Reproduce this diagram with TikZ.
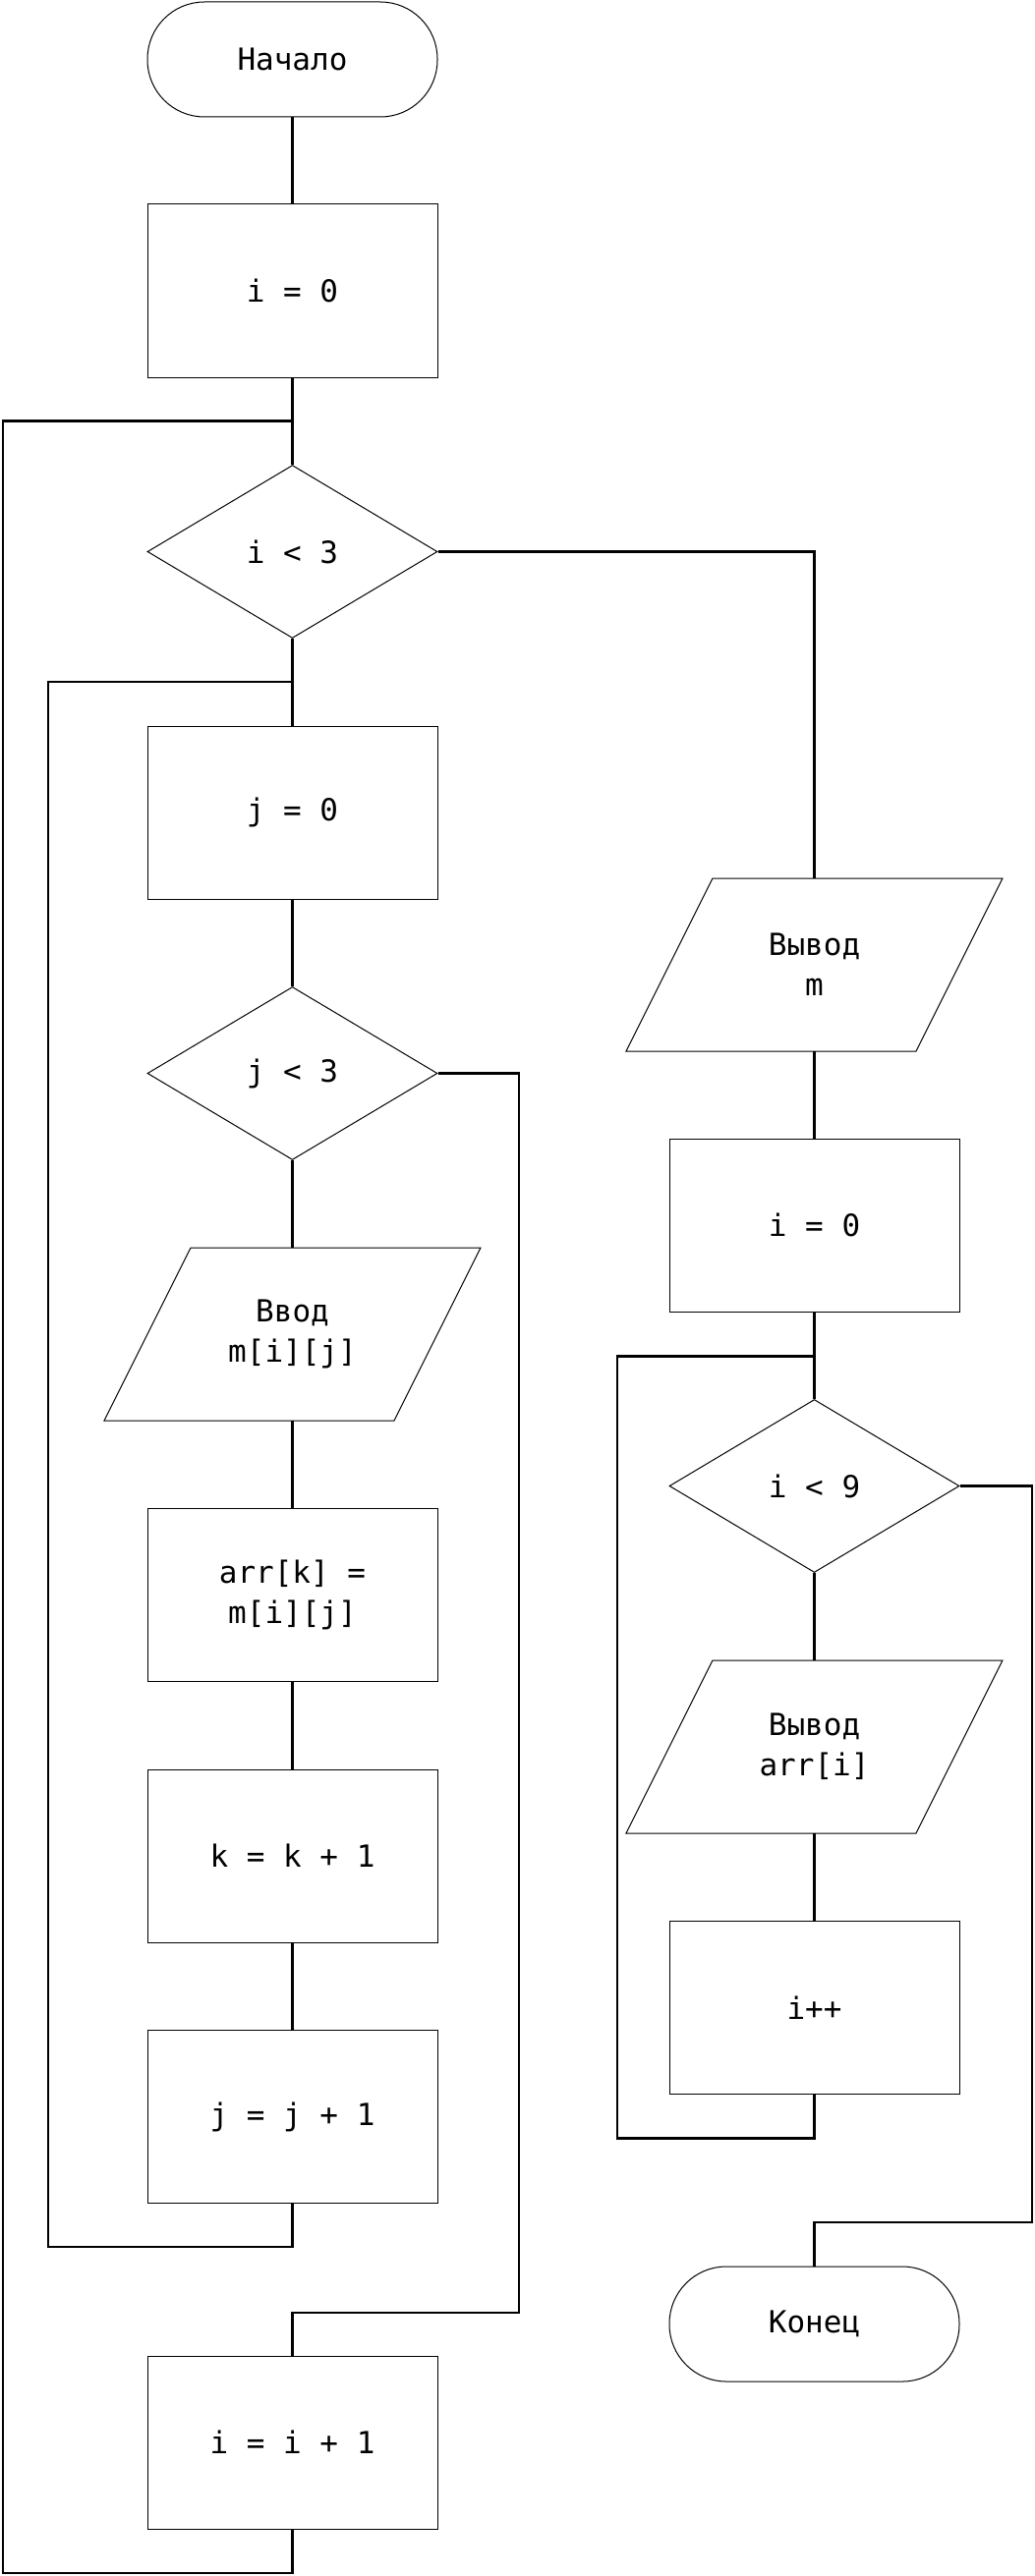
\documentclass[tikz,border=0pt]{standalone}
\usepackage{fontspec}
\newfontfamily\flowfont{DejaVu Sans Mono}
\usetikzlibrary{shapes.geometric}
\tikzset{
  every node/.style={font=\flowfont\fontsize{15.5pt}{20.5pt}\selectfont, align=center, inner sep=0pt},
  shapeline/.style={draw=black, line width=0.5pt},
  procbox/.style={shapeline, rectangle, minimum width=147.5pt, minimum height=88pt},
  termbox/.style={shapeline, rectangle, rounded corners=29pt, minimum width=147.5pt, minimum height=58.5pt},
  decbox/.style={shapeline, diamond, minimum width=147.5pt, minimum height=88pt},
  iobox/.style={rectangle, minimum width=147.5pt, minimum height=88pt},
  conn/.style={draw=black, line width=1.3pt, line join=miter},
}
\begin{document}
\begin{tikzpicture}[x=0.5pt, y=-0.5pt]
\useasboundingbox (0,0) rectangle (1053,2622);
% left column
\node[termbox] (start) at (297.5,60.5) {Начало};
\node[procbox] (a0) at (297.5,296) {i = 0};
\node[decbox] (d1) at (297.5,561.5) {i < 3};
\node[procbox] (b1) at (297.5,827) {j = 0};
\node[decbox] (d2) at (297.5,1092.5) {j < 3};
\node[iobox] (in1) at (297.5,1358) {Ввод\\m[i][j]};
\draw[shapeline] (in1.center) ++(-191.5,88) -- ++(295,0) -- ++(88,-176) -- ++(-295,0) -- cycle;
\node[procbox] (b2) at (297.5,1623.5) {arr[k] =\\m[i][j]};
\node[procbox] (b3) at (297.5,1889) {k = k + 1};
\node[procbox] (b4) at (297.5,2154.5) {j = j + 1};
\node[procbox] (b5) at (297.5,2486) {i = i + 1};
% right column
\node[iobox] (out1) at (828.5,982) {Вывод\\m};
\draw[shapeline] (out1.center) ++(-191.5,88) -- ++(295,0) -- ++(88,-176) -- ++(-295,0) -- cycle;
\node[procbox] (c1) at (828.5,1247) {i = 0};
\node[decbox] (d3) at (828.5,1512.5) {i < 9};
\node[iobox] (out2) at (828.5,1778) {Вывод\\arr[i]};
\draw[shapeline] (out2.center) ++(-191.5,88) -- ++(295,0) -- ++(88,-176) -- ++(-295,0) -- cycle;
\node[procbox] (c2) at (828.5,2043.5) {i++};
\node[termbox] (end) at (828.5,2365.5) {Конец};
% junction coordinates
\coordinate (j1) at (297.5,428.75);
\coordinate (j2) at (297.5,694);
\coordinate (j3) at (828.5,1380.5);
\coordinate (ol1) at (297.5,2619);
\coordinate (ol2) at (3,2619);
\coordinate (ol3) at (3,428.75);
\coordinate (il1) at (297.5,2287);
\coordinate (il2) at (49,2287);
\coordinate (il3) at (49,694);
\coordinate (ex1) at (528,1092.5);
\coordinate (ex2) at (528,2354);
\coordinate (ex3) at (297.5,2354);
\coordinate (rl1) at (828.5,2176.5);
\coordinate (rl2) at (628,2176.5);
\coordinate (rl3) at (628,1380.5);
\coordinate (re1) at (1050,1512.5);
\coordinate (re2) at (1050,2262);
\coordinate (re3) at (828.5,2262);
% connectors
\draw[conn] (start.south) -- (a0.north);
\draw[conn] (a0.south) -- (d1.north);
\draw[conn] (d1.south) -- (b1.north);
\draw[conn] (b1.south) -- (d2.north);
\draw[conn] (d2.south) -- (in1.north);
\draw[conn] (in1.south) -- (b2.north);
\draw[conn] (b2.south) -- (b3.north);
\draw[conn] (b3.south) -- (b4.north);
\draw[conn] (d1.east) -| (out1.north);
\draw[conn] (out1.south) -- (c1.north);
\draw[conn] (c1.south) -- (d3.north);
\draw[conn] (d3.south) -- (out2.north);
\draw[conn] (out2.south) -- (c2.north);
\draw[conn] (d2.east) -- (ex1) -- (ex2) -- (ex3) -- (b5.north);
\draw[conn] (b4.south) -- (il1) -- (il2) -- (il3) -- (j2);
\draw[conn] (b5.south) -- (ol1) -- (ol2) -- (ol3) -- (j1);
\draw[conn] (c2.south) -- (rl1) -- (rl2) -- (rl3) -- (j3);
\draw[conn] (d3.east) -- (re1) -- (re2) -- (re3) -- (end.north);
\end{tikzpicture}
\end{document}
